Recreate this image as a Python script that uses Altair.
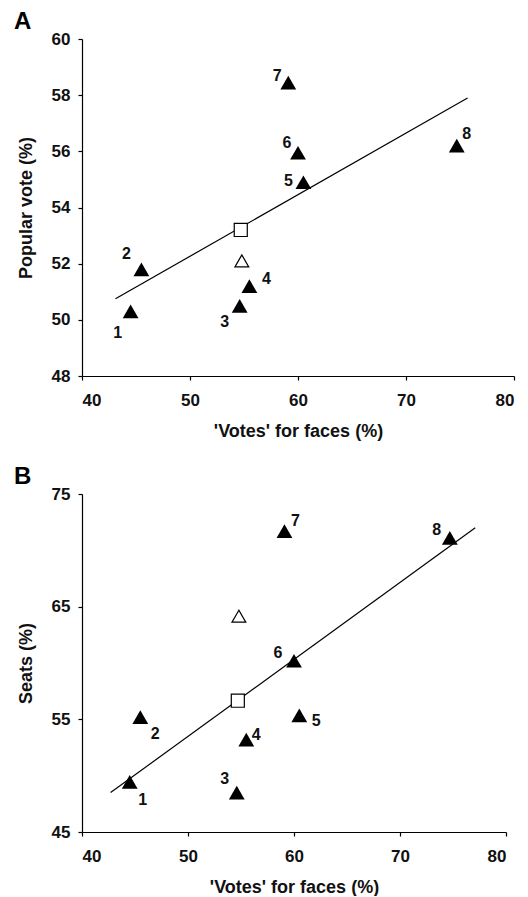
import altair as alt
import pandas as pd

# ---- data ----
election_ids = ["1", "2", "3", "4", "5", "6", "7", "8"]
faces_votes = [44.5, 45.5, 54.6, 55.5, 60.5, 60.0, 59.1, 74.7]
popular_vote = [50.3, 51.8, 50.5, 51.2, 54.9, 55.95, 58.45, 56.2]
seats = [49.45, 55.2, 48.5, 53.2, 55.35, 60.2, 71.7, 71.1]

open_triangle_x = [54.8]
open_triangle_popular = [52.1]
open_triangle_seats = [64.15]

square_x = [54.7]
square_popular = [53.2]
square_seats = [56.65]

fit_a_x = [43.1, 75.7]
fit_a_y = [50.75, 57.9]
fit_b_x = [42.7, 77.1]
fit_b_y = [48.5, 72.0]

x_ticks = [40, 50, 60, 70, 80]
y_ticks_a = [48, 50, 52, 54, 56, 58, 60]
y_ticks_b = [45, 55, 65, 75]

# label offsets (pixels) -- styling
offsets_a = {"1": (-13, 22), "2": (-15, -15), "3": (-15, 16), "4": (17, -7),
             "5": (-15, -1), "6": (-11, -10), "7": (-11, -7), "8": (10, -12)}
offsets_b = {"1": (13, 18), "2": (15, 17), "3": (-12, -14), "4": (10, -5),
             "5": (17, 6), "6": (-16, -8), "7": (11, -10), "8": (-13, -8)}

FONT = "Liberation Sans"


def panel(letter, yvals, ytitle, ydom, yticks, ox, oy, sx, sy, lx, ly, offsets, w, h):
    xs = alt.Scale(domain=[40, 80], nice=False, zero=False)
    ys = alt.Scale(domain=ydom, nice=False, zero=False)
    xax = alt.Axis(values=x_ticks, title="'Votes' for faces (%)")
    yax = alt.Axis(values=yticks, title=ytitle)

    df = pd.DataFrame({"id": election_ids, "x": faces_votes, "y": yvals})
    df_open = pd.DataFrame({"x": ox, "y": oy})
    df_sq = pd.DataFrame({"x": sx, "y": sy})
    df_line = pd.DataFrame({"x": lx, "y": ly})

    line = alt.Chart(df_line).mark_line(color="black", strokeWidth=1.2).encode(
        x=alt.X("x:Q", scale=xs, axis=xax),
        y=alt.Y("y:Q", scale=ys, axis=yax),
    )
    tri = alt.Chart(df).mark_point(shape="triangle-up", filled=True, color="black",
                                   size=250, opacity=1).encode(
        x="x:Q", y="y:Q")
    otri = alt.Chart(df_open).mark_point(shape="triangle-up", filled=True, fill="white",
                                         stroke="black", strokeWidth=1.2, size=190,
                                         opacity=1).encode(x="x:Q", y="y:Q")
    sq = alt.Chart(df_sq).mark_point(shape="square", filled=True, fill="white",
                                     stroke="black", strokeWidth=1.2, size=170,
                                     opacity=1).encode(x="x:Q", y="y:Q")
    labels = []
    for k in election_ids:
        dx, dy = offsets[k]
        labels.append(
            alt.Chart(df).transform_filter(alt.datum.id == k).mark_text(
                dx=dx, dy=dy, fontSize=16, fontWeight="bold", color="#111",
                align="center", baseline="middle", font=FONT,
            ).encode(x="x:Q", y="y:Q", text="id:N")
        )
    return alt.layer(line, tri, otri, sq, *labels).properties(
        width=w, height=h,
        title=alt.TitleParams(letter, anchor="start", frame="bounds", fontSize=24,
                              fontWeight="bold", dx=-3, offset=-4, font=FONT,
                              color="black"),
    )


a = panel("A", popular_vote, "Popular vote (%)", [48, 60], y_ticks_a,
          open_triangle_x, open_triangle_popular, square_x, square_popular,
          fit_a_x, fit_a_y, offsets_a, 432, 337)
b = panel("B", seats, "Seats (%)", [45, 75], y_ticks_b,
          open_triangle_x, open_triangle_seats, square_x, square_seats,
          fit_b_x, fit_b_y, offsets_b, 424, 338)

chart = alt.vconcat(a, b, spacing=25).properties(
    padding={"left": 6, "top": 2, "right": 1, "bottom": 0}
).configure(font=FONT).configure_view(
    stroke=None
).configure_axis(
    grid=False, domainColor="black", tickColor="black", labelColor="#111",
    titleColor="#111", labelFontSize=17, labelFontWeight="bold", titleFontSize=18,
    titleFontWeight="bold", tickSize=4, labelFont=FONT, titleFont=FONT,
    domainWidth=1.2, tickWidth=1.2,
).configure_axisX(titlePadding=14, labelPadding=12).configure_axisY(
    titlePadding=16, labelPadding=8)

chart.save("out.html", embed_options={"renderer": "svg", "actions": False})
